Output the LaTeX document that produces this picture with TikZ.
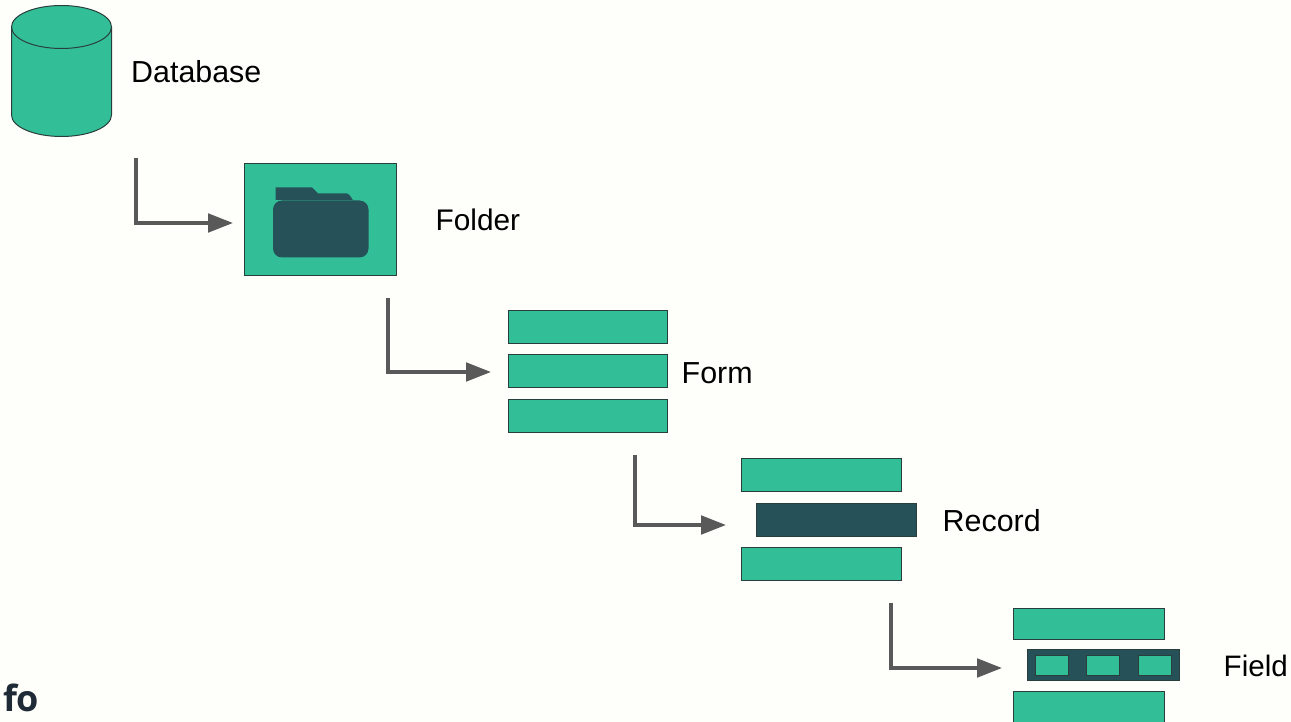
\documentclass[tikz,border=0pt]{standalone}
\usepackage{fontspec}
\setmainfont{Liberation Sans}
\newfontfamily\logofont{Open Sans}
\usetikzlibrary{arrows.meta,calc}
\definecolor{bgc}{HTML}{FEFEFA}
\definecolor{grn}{HTML}{32BF97}
\definecolor{drk}{HTML}{265159}
\definecolor{arr}{HTML}{595959}
\definecolor{edge}{HTML}{2A3F3C}
\definecolor{logoc}{HTML}{1F2A37}
\tikzset{
  x=1pt,y=-1pt,
  bar/.style={draw=edge,line width=0.9pt,fill=grn,minimum width=#1,minimum height=33pt,inner sep=0pt,outer sep=0pt},
  darkbar/.style={draw=edge,line width=0.9pt,fill=drk,minimum width=#1,minimum height=33pt,inner sep=0pt,outer sep=0pt},
  cell/.style={draw=edge,line width=0.8pt,fill=grn,minimum width=33pt,minimum height=19.5pt,inner sep=0pt,outer sep=0pt},
  lbl/.style={font=\fontsize{30.4}{34}\selectfont,text=black,inner sep=0pt,anchor=base west},
  conn/.style={draw=arr,line width=3.6pt,line join=miter,-{Triangle[length=25pt,width=18.5pt]}},
}
\begin{document}
\begin{tikzpicture}
\useasboundingbox (0,0) rectangle (1291,722);
\fill[bgc] (0,0) rectangle (1291,722);
% database
\draw[draw=edge,line width=1pt,fill=grn] (11.5,27) -- (11.5,115) arc[start angle=180,end angle=360,x radius=50,y radius=-21.5] -- (111.5,27) arc[start angle=0,end angle=180,x radius=50,y radius=-21.5] -- cycle;
\draw[draw=edge,line width=1pt] (11.5,27) arc[start angle=180,end angle=360,x radius=50,y radius=-21.5];
\node[lbl] (dbl) at (131,83) {Database};
% folder
\node[bar=151.5pt,minimum height=112.5pt] (folderbox) at (320.5,219.5) {};
\fill[drk] (275.5,187.5) -- (312,187.5) -- (318,193.5) -- (347,193.5) to[out=0,in=-90] (353.5,200) -- (275.5,200) -- cycle;
\fill[drk,rounded corners=9pt] (273,200.5) rectangle (368.5,257.5);
\node[lbl,font=\fontsize{29.8}{34}\selectfont] (fl) at (435.5,231) {Folder};
% form
\node[bar=159pt] (f1) at (587.5,327) {};
\node[bar=159pt] (f2) at (587.5,371) {};
\node[bar=159pt] (f3) at (587.5,415.5) {};
\node[lbl] (fol) at (681.5,383) {Form};
% record
\node[bar=160pt] (r1) at (821,475) {};
\node[darkbar=160pt] (r2) at (836.5,519.5) {};
\node[bar=160pt] (r3) at (821,564) {};
\node[lbl] (rl) at (942.5,531) {Record};
% field
\node[bar=151.5pt,minimum height=31pt] (d1) at (1089,623.5) {};
\node[darkbar=151.5pt,minimum height=31pt] (d2) at (1103.5,665) {};
\node[cell] (c1) at (1051.5,665.5) {};
\node[cell] (c2) at (1103,665.5) {};
\node[cell] (c3) at (1154.5,665.5) {};
\node[bar=151.5pt,minimum height=40pt] (d3) at (1089,711.5) {};
\node[lbl,font=\fontsize{29.6}{34}\selectfont] (fdl) at (1223.5,676) {Field};
% connectors
\coordinate (a1s) at (136,158); \coordinate (a1e) at (233,223);
\coordinate (a2s) at (388,298); \coordinate (a2e) at (491,372);
\coordinate (a3s) at (635,455); \coordinate (a3e) at (726,525);
\coordinate (a4s) at (891,603); \coordinate (a4e) at (1002,668);
\draw[conn] (a1s) |- (a1e);
\draw[conn] (a2s) |- (a2e);
\draw[conn] (a3s) |- (a3e);
\draw[conn] (a4s) |- (a4e);
% logo
\node[font=\logofont\fontsize{36}{40}\selectfont\bfseries,text=logoc,inner sep=0pt,anchor=base east] (logo) at (39.5,711) {nfo};
\end{tikzpicture}
\end{document}
